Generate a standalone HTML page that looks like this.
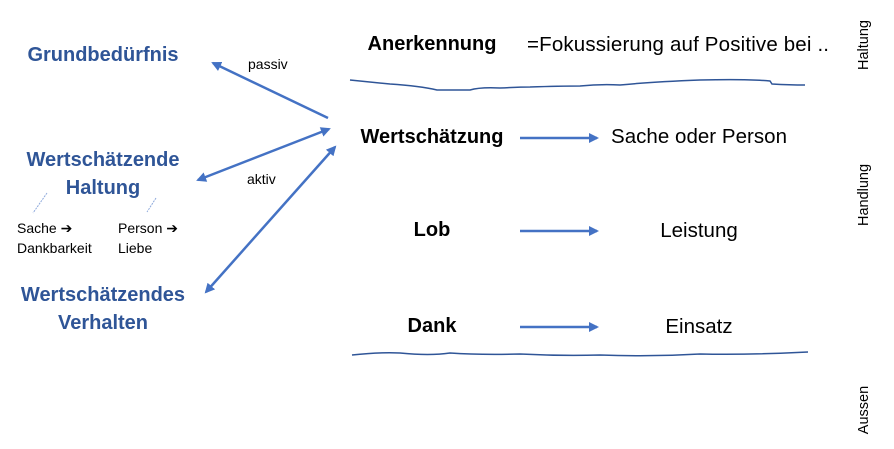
<!DOCTYPE html>
<html><head><style>body{margin:0;background:#fff}svg{display:block}</style></head><body>
<svg width="894" height="449" viewBox="0 0 894 449" xmlns="http://www.w3.org/2000/svg" font-family="Liberation Sans, sans-serif">
<defs>
<marker id="a" markerWidth="10" markerHeight="10" refX="8" refY="5" orient="auto-start-reverse" markerUnits="userSpaceOnUse">
<path d="M0,0 L10,5 L0,10 Z" fill="#4472C4"/></marker>
</defs>
<g font-weight="bold" fill="#2F5597" font-size="20" text-anchor="middle">
<text x="103" y="61">Grundbedürfnis</text>
<text x="103" y="166">Wertschätzende</text>
<text x="103" y="194">Haltung</text>
<text x="103" y="301">Wertschätzendes</text>
<text x="103" y="329">Verhalten</text>
</g>
<g font-size="14" fill="#000">
<text x="17" y="233">Sache ➔</text>
<text x="17" y="253">Dankbarkeit</text>
<text x="118" y="233">Person ➔</text>
<text x="118" y="253">Liebe</text>
<text x="248" y="69">passiv</text>
<text x="247" y="184">aktiv</text>
</g>
<g stroke="#8FAADC" stroke-width="1" stroke-dasharray="2,1">
<line x1="47" y1="193" x2="33" y2="213"/><line x1="156" y1="198" x2="147" y2="212"/>
</g>
<g stroke="#4472C4" stroke-width="2.5" fill="none">
<line x1="328" y1="118" x2="213" y2="63" marker-end="url(#a)"/>
<line x1="329" y1="129" x2="198" y2="180" marker-start="url(#a)" marker-end="url(#a)"/>
<line x1="335" y1="147" x2="206" y2="292" marker-start="url(#a)" marker-end="url(#a)"/>
<line x1="520" y1="138" x2="597" y2="138" marker-end="url(#a)"/>
<line x1="520" y1="231" x2="597" y2="231" marker-end="url(#a)"/>
<line x1="520" y1="327" x2="597" y2="327" marker-end="url(#a)"/>
</g>
<g stroke="#2F5597" stroke-width="1.5" fill="none">
<path d="M350,80 Q380,83 390,84 Q420,86 437,90 Q460,90 470,90 Q480,87 500,88 Q520,87 530,87 Q560,86 580,86 Q600,84 620,85 Q650,82 700,80 Q750,79 770,81 L772,84 Q790,85 805,85"/>
<path d="M352,355 Q380,352 400,353 Q430,356 450,353 Q480,355 520,354 Q560,356 600,355 Q650,357 700,354 Q750,355 808,352"/>
</g>
<g font-weight="bold" font-size="20" text-anchor="middle" fill="#000">
<text x="432" y="50">Anerkennung</text>
<text x="432" y="143">Wertschätzung</text>
<text x="432" y="236">Lob</text>
<text x="432" y="332">Dank</text>
</g>
<g font-size="20.5" fill="#000">
<text x="527" y="51" textLength="302">=Fokussierung auf Positive bei ..</text>
<text x="611" y="143" textLength="176">Sache oder Person</text>
<text x="699" y="237" text-anchor="middle">Leistung</text>
<text x="699" y="333" text-anchor="middle">Einsatz</text>
</g>
<g font-size="14.5" fill="#000" text-anchor="middle">
<text transform="translate(868,45) rotate(-90)">Haltung</text>
<text transform="translate(868,195) rotate(-90)">Handlung</text>
<text transform="translate(868,410) rotate(-90)">Aussen</text>
</g>
</svg>
</body></html>
